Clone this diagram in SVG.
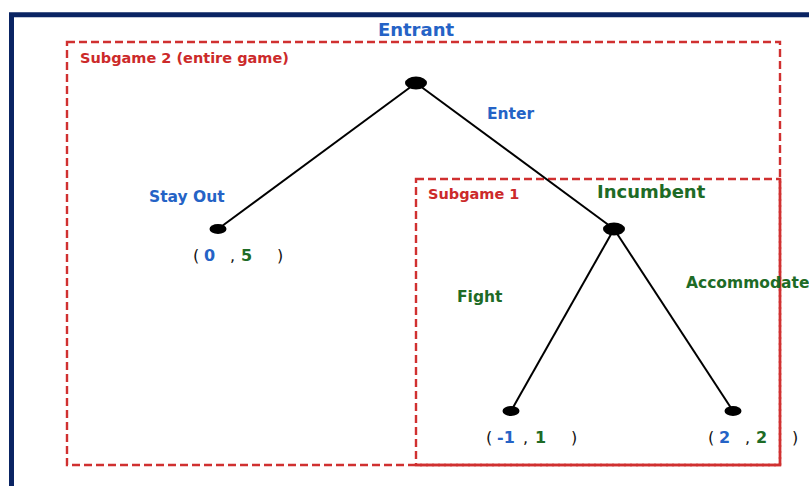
<svg xmlns="http://www.w3.org/2000/svg" width="809" height="486" viewBox="0 0 809 486">
<style>
text{font-family:"DejaVu Sans","Liberation Sans",sans-serif;font-weight:bold}
.blue{fill:#2563c6}
.green{fill:#1e6b26}
.red{fill:#cc2a2a}
.dark{fill:#111;font-weight:normal}
.box{fill:none;stroke:#d03030;stroke-width:2.4;stroke-dasharray:8,4}
.solid{fill:none;stroke:#d03030;stroke-width:2.4}
.edge{stroke:#000;stroke-width:2}
.node{fill:#000}
</style>
<rect width="809" height="486" fill="#fff"/>
<path d="M11.5 500 V14.8 H820" fill="none" stroke="#0a2463" stroke-width="5"/>
<g id="subgame2">
<rect class="box" x="67" y="42" width="713" height="423"/>
<text class="red" x="80" y="63" font-size="14.5">Subgame 2 (entire game)</text>
</g>
<g id="subgame1">
<rect class="box" x="416" y="179" width="364" height="286"/>
<path class="solid" d="M780 179 V465 H416"/>
<text class="red" x="428" y="199" font-size="14.5">Subgame 1</text>
</g>
<g id="connectors">
<line class="edge" x1="416" y1="83" x2="218" y2="229"/>
<line class="edge" x1="416" y1="83" x2="614" y2="229"/>
<line class="edge" x1="614" y1="229" x2="511" y2="411"/>
<line class="edge" x1="614" y1="229" x2="733" y2="411"/>
<text class="blue" x="487" y="119" font-size="15.5">Enter</text>
<text class="blue" x="149" y="202" font-size="15.5">Stay Out</text>
<text class="green" x="457" y="302" font-size="15.5">Fight</text>
<text class="green" x="686" y="288" font-size="15.5">Accommodate</text>
</g>
<g id="entrant">
<ellipse class="node" cx="416" cy="83" rx="11" ry="6.5"/>
<text class="blue" x="416" y="36" font-size="18" text-anchor="middle">Entrant</text>
</g>
<g id="incumbent">
<ellipse class="node" cx="614" cy="229" rx="11" ry="6.5"/>
<text class="green" x="597" y="198" font-size="18">Incumbent</text>
</g>
<g id="leaf-stayout">
<ellipse class="node" cx="218" cy="229" rx="8.5" ry="5"/>
<text x="193" y="261" font-size="16"><tspan class="dark">(</tspan><tspan class="blue" x="204">0</tspan><tspan class="dark" x="230">,</tspan><tspan class="green" x="241">5</tspan><tspan class="dark" x="277">)</tspan></text>
</g>
<g id="leaf-fight">
<ellipse class="node" cx="511" cy="411" rx="8.5" ry="5"/>
<text x="486" y="443" font-size="16"><tspan class="dark">(</tspan><tspan class="blue" x="497">-1</tspan><tspan class="dark" x="523">,</tspan><tspan class="green" x="535">1</tspan><tspan class="dark" x="571">)</tspan></text>
</g>
<g id="leaf-accommodate">
<ellipse class="node" cx="733" cy="411" rx="8.5" ry="5"/>
<text x="708" y="443" font-size="16"><tspan class="dark">(</tspan><tspan class="blue" x="719">2</tspan><tspan class="dark" x="745">,</tspan><tspan class="green" x="756">2</tspan><tspan class="dark" x="792">)</tspan></text>
</g>
</svg>
